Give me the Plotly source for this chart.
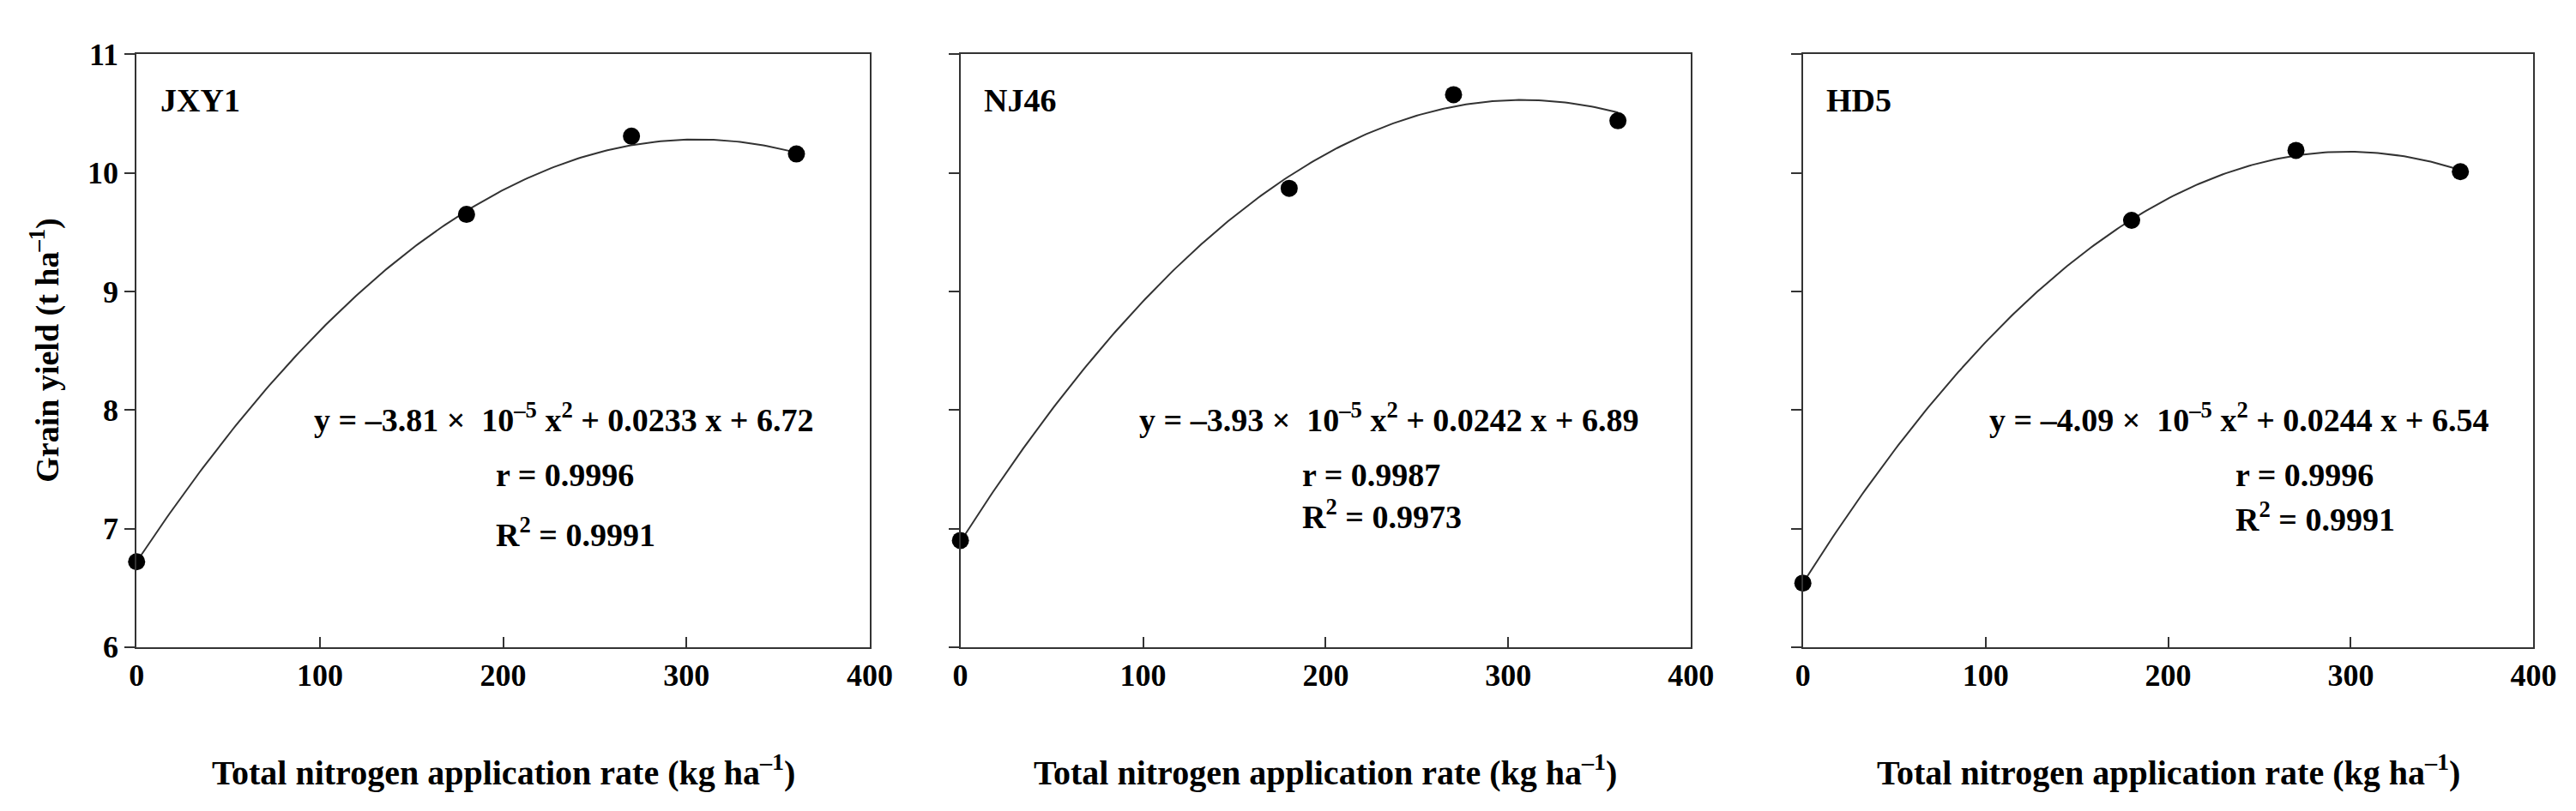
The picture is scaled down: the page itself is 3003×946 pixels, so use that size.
import numpy as np
import plotly.graph_objects as go

# measured points (kg N/ha -> t/ha)
n_rate = [0, 180, 270, 360]
yield_jxy1 = [6.72, 9.65, 10.31, 10.16]
yield_nj46 = [6.90, 9.87, 10.66, 10.44]
yield_hd5 = [6.54, 9.60, 10.19, 10.01]

# quadratic fit coefficients printed on the chart (a*1e-5, b, c)
coef_jxy1 = [-3.81, 0.0233, 6.72]
coef_nj46 = [-3.93, 0.0242, 6.89]
coef_hd5 = [-4.09, 0.0244, 6.54]

names = ["JXY1", "NJ46", "HD5"]
r_vals = ["0.9996", "0.9987", "0.9996"]
r2_vals = ["0.9991", "0.9973", "0.9991"]

x_ticks = [0, 100, 200, 300, 400]
y_ticks = [6, 7, 8, 9, 10, 11]

FONT = "Liberation Serif"
W, H = 3003, 946
panels_px = [(144, 1009), (1116, 1978), (2110, 2972)]
top_px, bot_px = 38, 760

fig = go.Figure()
data = [yield_jxy1, yield_nj46, yield_hd5]
coefs = [coef_jxy1, coef_nj46, coef_hd5]
eq_x = [233, 235, 239]
r_x = [195, 186, 236]
r2_y = [6.97, 7.12, 7.10]

xs = np.linspace(0, 360, 200)
for i in range(3):
    xa = "x" if i == 0 else f"x{i+1}"
    ya = "y" if i == 0 else f"y{i+1}"
    a, b, c = coefs[i]
    fig.add_trace(go.Scatter(x=xs, y=a * 1e-5 * xs**2 + b * xs + c, mode="lines",
                             line=dict(color="#333", width=2), xaxis=xa, yaxis=ya,
                             showlegend=False, cliponaxis=False))
    fig.add_trace(go.Scatter(x=n_rate, y=data[i], mode="markers",
                             marker=dict(color="black", size=20), xaxis=xa, yaxis=ya,
                             showlegend=False, cliponaxis=False))

    l, r = panels_px[i]
    tickfont = dict(family=FONT, size=36, color="black", weight="bold")
    ax = dict(domain=[l / W, r / W], range=[0, 400], tickvals=x_ticks,
              ticks="inside", ticklen=12, tickwidth=2, tickcolor="#333",
              showline=True, linecolor="#333", linewidth=2, mirror=True,
              showgrid=False, zeroline=False, tickfont=tickfont, anchor=ya)
    ay = dict(domain=[1 - bot_px / H, 1 - top_px / H], range=[6, 11], tickvals=y_ticks,
              ticks="outside", ticklen=12, tickwidth=2, tickcolor="#333",
              showline=True, linecolor="#333", linewidth=2, mirror=True,
              showgrid=False, zeroline=False, showticklabels=(i == 0),
              tickfont=tickfont, anchor=xa)
    fig.update_layout({("xaxis" if i == 0 else f"xaxis{i+1}"): ax,
                       ("yaxis" if i == 0 else f"yaxis{i+1}"): ay})

    bold = dict(family=FONT, size=38, color="black")
    fig.add_annotation(x=12, y=10.61, xref=xa, yref=ya, text=f"<b>{names[i]}</b>",
                       showarrow=False, xanchor="left", font=bold)
    eq = (f"<b>y = –{-a:.2f} ×  10<sup>–5</sup> x<sup>2</sup> + {b:.4f} x + {c:.2f}</b>")
    fig.add_annotation(x=eq_x[i], y=7.94, xref=xa, yref=ya, text=eq,
                       showarrow=False, xanchor="center", font=bold)
    fig.add_annotation(x=r_x[i], y=7.45, xref=xa, yref=ya, text=f"<b>r = {r_vals[i]}</b>",
                       showarrow=False, xanchor="left", font=bold)
    fig.add_annotation(x=r_x[i], y=r2_y[i], xref=xa, yref=ya,
                       text=f"<b>R<sup>2</sup> = {r2_vals[i]}</b>",
                       showarrow=False, xanchor="left", font=bold)
    fig.add_annotation(x=(l + r) / 2 / W, y=1 - 910 / H, xref="paper", yref="paper",
                       text="<b>Total nitrogen application rate (kg ha<sup>–1</sup>)</b>",
                       showarrow=False, xanchor="center", yanchor="middle",
                       font=dict(family=FONT, size=40, color="black"))

fig.add_annotation(x=36 / W, y=(1 - (top_px + bot_px) / 2 / H), xref="paper", yref="paper",
                   text="<b>Grain yield (t ha<sup>–1</sup>)</b>", textangle=-90,
                   showarrow=False, xanchor="center", yanchor="middle",
                   font=dict(family=FONT, size=38, color="black"))

fig.update_layout(width=W, height=H, margin=dict(l=0, r=0, t=0, b=0),
                  paper_bgcolor="white", plot_bgcolor="white")
fig.write_html("out.html")
